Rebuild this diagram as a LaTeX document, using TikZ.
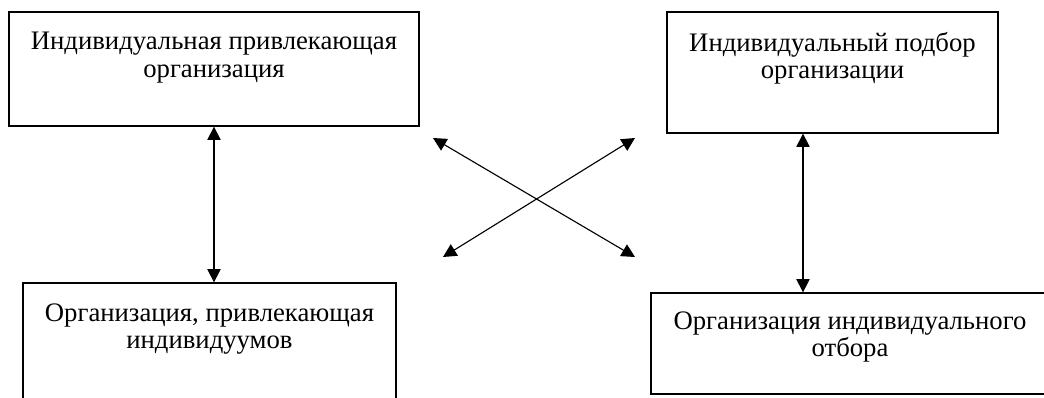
\documentclass[tikz,border=0pt]{standalone}
\usepackage{fontspec}
\setmainfont{Liberation Serif}
\usetikzlibrary{arrows.meta,calc}
\begin{document}
\begin{tikzpicture}[font=\fontsize{19}{19.5}\selectfont,
    box/.style={draw, line width=0.9pt, rectangle, inner sep=0pt},
    boxtext/.style={anchor=north, align=center, yshift=-0.4cm},
    link/.style={line width=0.8pt, {Triangle[length=9.5pt,width=9.5pt]}-{Triangle[length=9.5pt,width=9.5pt]}}]
    \clip (0,0) rectangle (26.1,-9.925);
    % Top boxes
    \node[box, minimum width=10.25cm, minimum height=2.85cm,
          label={[boxtext]north:Индивидуальная привлекающая\\организация}] (attract) at (5.35,-1.725) {};
    \node[box, minimum width=8.275cm, minimum height=3.025cm,
          label={[boxtext]north:Индивидуальный подбор\\организации}] (select) at (20.8125,-1.8125) {};
    % Bottom boxes
    \node[box, minimum width=9.325cm, minimum height=3.175cm,
          label={[boxtext]north:Организация, привлекающая\\индивидуумов}] (orgattract) at (5.2375,-8.6625) {};
    \node[box, minimum width=9.95cm, minimum height=2.525cm,
          label={[boxtext, yshift=0.05cm]north:Организация индивидуального\\отбора}] (orgselect) at (21.25,-8.5875) {};
    % Vertical links
    \draw[link] (attract.south) -- (attract.south |- orgattract.north);
    \draw[link] ([xshift=-0.7375cm]select.south) -- ([xshift=-0.7375cm]select.south |- orgselect.north);
    % Cross links
    \coordinate (nw) at (10.825,-3.45);
    \coordinate (se) at (15.875,-6.425);
    \coordinate (sw) at (11.075,-6.425);
    \coordinate (ne) at (15.875,-3.45);
    \draw[link] (nw) -- (se);
    \draw[link] (sw) -- (ne);
\end{tikzpicture}
\end{document}
